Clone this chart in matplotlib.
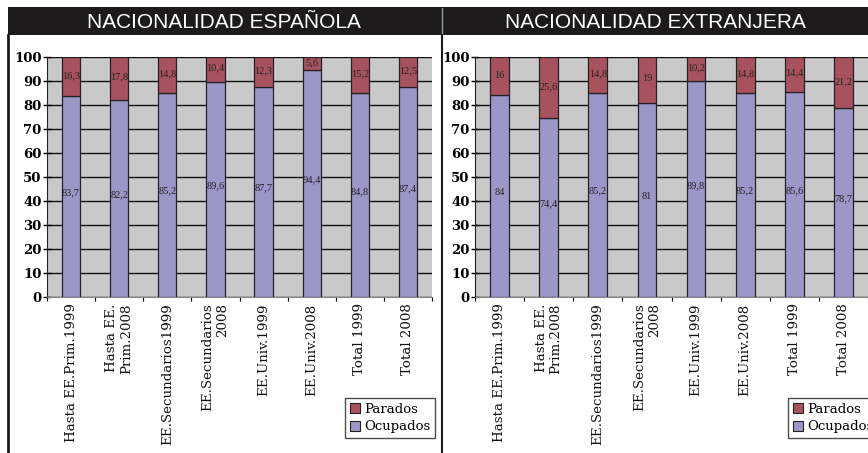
import matplotlib
matplotlib.use("Agg")
import matplotlib.pyplot as plt
from matplotlib.patches import Patch, Rectangle
from matplotlib.lines import Line2D
import numpy as np

categories = [
    "Hasta EE.Prim.1999",
    "Hasta EE.\nPrim.2008",
    "EE.Secundarios1999",
    "EE.Secundarios\n2008",
    "EE.Univ.1999",
    "EE.Univ.2008",
    "Total 1999",
    "Total 2008",
]

esp_ocupados = [83.7, 82.2, 85.2, 89.6, 87.7, 94.4, 84.8, 87.4]
esp_parados = [16.3, 17.8, 14.8, 10.4, 12.3, 5.6, 15.2, 12.5]

ext_ocupados = [84, 74.4, 85.2, 81, 89.8, 85.2, 85.6, 78.7]
ext_parados = [16, 25.6, 14.8, 19, 10.2, 14.8, 14.4, 21.2]

titles = ["NACIONALIDAD ESPAÑOLA", "NACIONALIDAD EXTRANJERA"]
series_names = ["Parados", "Ocupados"]
yticks = list(range(0, 101, 10))

C_OCU = "#9d96c9"
C_PAR = "#a8525f"
C_BG = "#c9c9c9"

W, H = 868, 453
fig = plt.figure(figsize=(W / 100, H / 100), dpi=100)
fig.patch.set_facecolor("white")


def fx(px):
    return px / W


def fy(py):
    return 1 - py / H


# Header band with titles
fig.add_artist(Rectangle((fx(8), fy(35)), fx(860), fy(7) - fy(35),
                         transform=fig.transFigure, facecolor="#1c1a1a",
                         edgecolor="none", zorder=0))
fig.add_artist(Line2D([fx(442), fx(442)], [fy(8), fy(35)], transform=fig.transFigure,
                      color="#9a9a9a", lw=1.0))
fig.text(fx(224), fy(22), titles[0], color="white", ha="center", va="center",
         fontsize=15, family="Liberation Sans")
fig.text(fx(655), fy(22), titles[1], color="white", ha="center", va="center",
         fontsize=15, family="Liberation Sans")

# Panel separators
fig.add_artist(Line2D([fx(8), fx(8)], [fy(35), 0], transform=fig.transFigure,
                      color="#1c1a1a", lw=2.0))
fig.add_artist(Line2D([fx(442), fx(442)], [fy(35), 0], transform=fig.transFigure,
                      color="#1c1a1a", lw=1.5))


def fmt(v):
    return f"{v:g}".replace(".", ",")


def draw_panel(rect, ocupados, parados, legend_xy):
    ax = fig.add_axes(rect)
    ax.set_facecolor(C_BG)
    x = np.arange(len(categories))
    ax.set_axisbelow(True)
    ax.yaxis.grid(True, color="#111111", lw=1.0)
    ax.bar(x, ocupados, width=0.38, color=C_OCU, edgecolor="#222222", lw=0.9, zorder=2)
    ax.bar(x, parados, width=0.38, bottom=ocupados, color=C_PAR,
           edgecolor="#222222", lw=0.9, zorder=2)
    for xi, o, p in zip(x, ocupados, parados):
        ax.text(xi, o / 2 + 1.5, fmt(o), ha="center", va="center", fontsize=7.5,
                family="Liberation Serif", color="#222222", zorder=3)
        ax.text(xi, o + p / 2 + 0.5, fmt(p), ha="center", va="center", fontsize=7.5,
                family="Liberation Serif", color="#222222", zorder=3)
    ax.set_xlim(-0.5, len(categories) - 0.5)
    ax.set_ylim(0, 100)
    ax.set_yticks(yticks)
    ax.set_yticklabels([str(t) for t in yticks], fontsize=9.5, fontweight="bold",
                       family="DejaVu Serif")
    ax.tick_params(axis="y", direction="inout", length=6, width=1, pad=1)
    # Category ticks sit between the bars; the names are drawn below each bar
    ax.set_xticks(np.arange(len(categories) + 1) - 0.5)
    ax.set_xticklabels([])
    ax.tick_params(axis="x", length=3, width=0.8, direction="out")
    for xi, name in zip(x, categories):
        ax.annotate(name, xy=(xi, 0), xycoords=("data", "axes fraction"),
                    xytext=(0, -4.5), textcoords="offset points", rotation=90,
                    ha="center", va="top", multialignment="right",
                    fontsize=9.6, family="DejaVu Serif", color="#111111",
                    annotation_clip=False)
    for s in ["top", "right"]:
        ax.spines[s].set_visible(False)
    ax.spines["left"].set_color("#222222")
    ax.spines["bottom"].set_color("#888888")
    handles = [Patch(facecolor=C_PAR, edgecolor="#222222", lw=0.8),
               Patch(facecolor=C_OCU, edgecolor="#222222", lw=0.8)]
    leg = fig.legend(handles, series_names, loc="upper left",
                     bbox_to_anchor=legend_xy, bbox_transform=fig.transFigure,
                     frameon=True, fancybox=False, edgecolor="#222222",
                     prop={"family": "DejaVu Serif", "size": 9.5},
                     handlelength=0.8, handleheight=0.8, handletextpad=0.3,
                     borderpad=0.35, labelspacing=0.35, borderaxespad=0)
    leg.get_frame().set_linewidth(1.0)
    return ax


draw_panel([fx(47), fy(297), fx(432) - fx(47), fy(57) - fy(297)],
           esp_ocupados, esp_parados, (fx(345), fy(398)))
draw_panel([fx(475), fy(297), fx(868) - fx(475), fy(57) - fy(297)],
           ext_ocupados, ext_parados, (fx(788), fy(398)))

fig.savefig("out.png", dpi=100)
